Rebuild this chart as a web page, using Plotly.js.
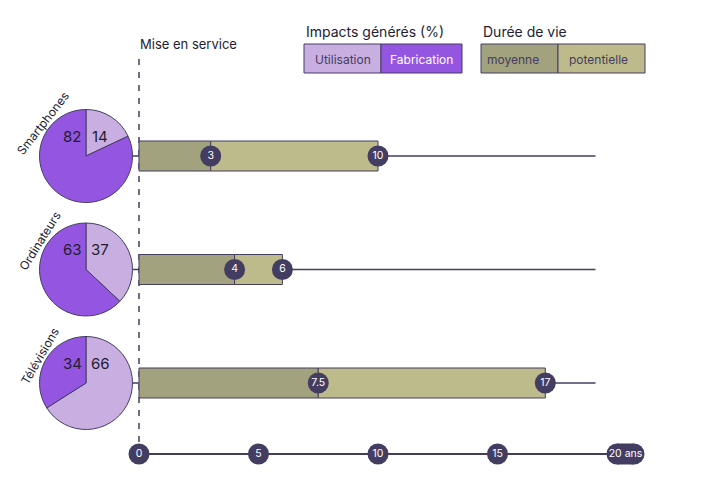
<!DOCTYPE html>
<html>
<head>
<meta charset="utf-8">
<script src="https://cdn.plot.ly/plotly-3.0.1.min.js"></script>
<style>html,body{margin:0;padding:0;background:#fff;}#chart{width:728px;height:502px;}</style>
</head>
<body>
<div id="chart"></div>
<script>
// ---- data ----
const devices = ["Smartphones", "Ordinateurs", "Télévisions"];
const fabrication = [82, 63, 34];       // % impacts (fabrication)
const utilisation = [14, 37, 66];       // % impacts (utilisation)
const lifeAvg = [3, 4, 7.5];            // durée de vie moyenne (ans)
const lifePotential = [10, 6, 17];      // durée de vie potentielle (ans)
const axisTicks = [0, 5, 10, 15, 20];
const axisTickLabels = ["0", "5", "10", "15", "20 ans"];
const lineEnd = 19.1;

// ---- style ----
const NAVY = "#443d62";
const TXT = "#221d33";
const C_UTIL = "#c9afe1", C_FAB = "#9456e0";
const C_AVG = "#a3a27e", C_POT = "#bdbb8b";
const FONT = "Inter, 'Noto Sans', sans-serif";
const W = 728, H = 502;

// pixel geometry
const x0px = 139, pxPerYear = 23.9;
const rowTop = 156, rowStep = 113.5;
const xr = [-x0px / pxPerYear, (W - x0px) / pxPerYear];
const yr = [(H - rowTop) / rowStep, -rowTop / rowStep];
const rows = devices.map((d, i) => i);
const axisRow = (454 - rowTop) / rowStep;
const pxY = v => v / rowStep;
const pxX = v => v / pxPerYear;
const pieStartX = pxX(132 - x0px);

const traces = [];

// connector lines (pie -> bar, bar end -> line end)
devices.forEach((d, i) => {
  traces.push({
    type: "scatter", mode: "lines",
    x: [pieStartX, 0, null, lifePotential[i], lineEnd],
    y: [i, i, null, i, i],
    line: { color: NAVY, width: 1.5 }, hoverinfo: "skip", showlegend: false
  });
});

// bars
traces.push({
  type: "bar", orientation: "h", y: rows, x: lifeAvg, base: 0,
  width: pxY(30), marker: { color: C_AVG, line: { color: NAVY, width: 1 } },
  showlegend: false, hoverinfo: "skip"
});
traces.push({
  type: "bar", orientation: "h", y: rows,
  x: lifePotential.map((p, i) => p - lifeAvg[i]), base: lifeAvg,
  width: pxY(30), marker: { color: C_POT, line: { color: NAVY, width: 1 } },
  showlegend: false, hoverinfo: "skip"
});

// value markers
const mk = (xs, ys, labels) => ({
  type: "scatter", mode: "markers+text", x: xs, y: ys, text: labels,
  textposition: "middle center", cliponaxis: false,
  textfont: { color: "#ffffff", size: 10.5, family: FONT },
  marker: { size: 21, color: NAVY, line: { width: 0 } },
  showlegend: false, hoverinfo: "skip"
});
traces.push(mk(lifeAvg, rows, lifeAvg.map(String)));
traces.push(mk(lifePotential, rows, lifePotential.map(String)));

// bottom axis
traces.push({
  type: "scatter", mode: "lines",
  x: [axisTicks[0], axisTicks[axisTicks.length - 1]], y: [axisRow, axisRow],
  line: { color: NAVY, width: 2 }, hoverinfo: "skip", showlegend: false
});
const pillEnd = axisTicks[axisTicks.length - 1] + pxX(17);
traces.push({
  type: "scatter", mode: "markers", x: [axisTicks[axisTicks.length - 1], pillEnd],
  y: [axisRow, axisRow], marker: { size: 21, color: NAVY },
  hoverinfo: "skip", showlegend: false, cliponaxis: false
});
traces.push({
  type: "scatter", mode: "markers+text",
  x: axisTicks.slice(0, -1), y: axisTicks.slice(0, -1).map(() => axisRow),
  text: axisTickLabels.slice(0, -1), textposition: "middle center",
  textfont: { color: "#ffffff", size: 10.5, family: FONT },
  marker: { size: 21, color: NAVY }, hoverinfo: "skip", showlegend: false, cliponaxis: false
});
traces.push({
  type: "scatter", mode: "text",
  x: [(axisTicks[axisTicks.length - 1] + pillEnd) / 2], y: [axisRow],
  text: [axisTickLabels[axisTickLabels.length - 1]], textposition: "middle center",
  textfont: { color: "#ffffff", size: 10.5, family: FONT },
  hoverinfo: "skip", showlegend: false, cliponaxis: false
});

// pies
const pieCx = 86, pieR = 46.5;
devices.forEach((d, i) => {
  const cy = rowTop + rowStep * i;
  traces.push({
    type: "pie", values: [100 - fabrication[i], fabrication[i]],
    labels: ["Utilisation", "Fabrication"], sort: false, direction: "clockwise", rotation: 0,
    marker: { colors: [C_UTIL, C_FAB], line: { color: NAVY, width: 1 } },
    textinfo: "none", hoverinfo: "skip", showlegend: false,
    domain: {
      x: [(pieCx - pieR) / W, (pieCx + pieR) / W],
      y: [1 - (cy + pieR) / H, 1 - (cy - pieR) / H]
    }
  });
});

const annotations = [];
const shapes = [];

// pie value labels + device labels (tangent to the pie, upper-left)
const devLabelAngle = [142, 148, 150];   // direction from pie centre (deg)
const devLabelR = 54;
devices.forEach((d, i) => {
  const cy = rowTop + rowStep * i;
  annotations.push({ xref: "paper", yref: "paper", x: 72 / W, y: 1 - (cy - 20) / H,
    text: String(fabrication[i]), showarrow: false, font: { size: 15, color: TXT, family: FONT },
    xanchor: "center", yanchor: "middle" });
  annotations.push({ xref: "paper", yref: "paper", x: 100 / W, y: 1 - (cy - 20) / H,
    text: String(utilisation[i]), showarrow: false, font: { size: 15, color: TXT, family: FONT },
    xanchor: "center", yanchor: "middle" });
  const a = devLabelAngle[i] * Math.PI / 180;
  const lx = pieCx + devLabelR * Math.cos(a), ly = cy - devLabelR * Math.sin(a);
  annotations.push({ xref: "paper", yref: "paper", x: lx / W, y: 1 - ly / H,
    text: d, textangle: -(devLabelAngle[i] - 90), showarrow: false,
    font: { size: 12, color: TXT, family: FONT },
    xanchor: "center", yanchor: "middle" });
});

// pill rect of "20 ans"
shapes.push({ type: "rect", xref: "x", yref: "y", layer: "below",
  x0: axisTicks[axisTicks.length - 1], x1: pillEnd,
  y0: axisRow - pxY(10.5), y1: axisRow + pxY(10.5),
  fillcolor: NAVY, line: { width: 0 } });

// "Mise en service" dashed line
shapes.push({ type: "line", xref: "x", yref: "paper", x0: 0, x1: 0,
  y0: 1 - 442 / H, y1: 1 - 56 / H, layer: "below",
  line: { color: NAVY, width: 1.5, dash: "6px,7px" } });
annotations.push({ xref: "x", yref: "paper", x: 0, y: 1 - 44 / H, text: "Mise en service",
  showarrow: false, xanchor: "left", yanchor: "middle", xshift: -1,
  font: { size: 13, color: TXT, family: FONT } });

// legends
const P = (px, py) => ({ x: px / W, y: 1 - py / H });
function legBox(x0, x1, color) {
  shapes.push({ type: "rect", xref: "paper", yref: "paper",
    x0: x0 / W, x1: x1 / W, y0: 1 - 73 / H, y1: 1 - 44 / H,
    fillcolor: color, line: { color: NAVY, width: 1 } });
}
legBox(304, 381, C_UTIL); legBox(381, 462, C_FAB);
legBox(481, 558, C_AVG); legBox(558, 645, C_POT);
function legText(px, py, t, col, anchor, size) {
  annotations.push(Object.assign({ xref: "paper", yref: "paper", text: t, showarrow: false,
    xanchor: anchor, yanchor: "middle", font: { size: size, color: col, family: FONT } }, P(px, py)));
}
legText(304, 32, "Impacts générés (%)", TXT, "left", 14);
legText(481, 32, "Durée de vie", TXT, "left", 14);
legText(342.5, 59, "Utilisation", NAVY, "center", 12);
legText(421.5, 59, "Fabrication", "#ffffff", "center", 12);
legText(485, 59, "moyenne", NAVY, "left", 12);
legText(567, 59, "potentielle", NAVY, "left", 12);

const layout = {
  width: W, height: H, margin: { l: 0, r: 0, t: 0, b: 0 },
  paper_bgcolor: "#ffffff", plot_bgcolor: "rgba(0,0,0,0)",
  barmode: "overlay", showlegend: false, bargap: 0,
  xaxis: { range: xr, domain: [0, 1], visible: false, fixedrange: true },
  yaxis: { range: yr, domain: [0, 1], visible: false, fixedrange: true },
  shapes: shapes, annotations: annotations,
  font: { family: FONT, color: TXT }
};

Plotly.newPlot("chart", traces, layout, { displayModeBar: false, staticPlot: true });
</script>
</body>
</html>
